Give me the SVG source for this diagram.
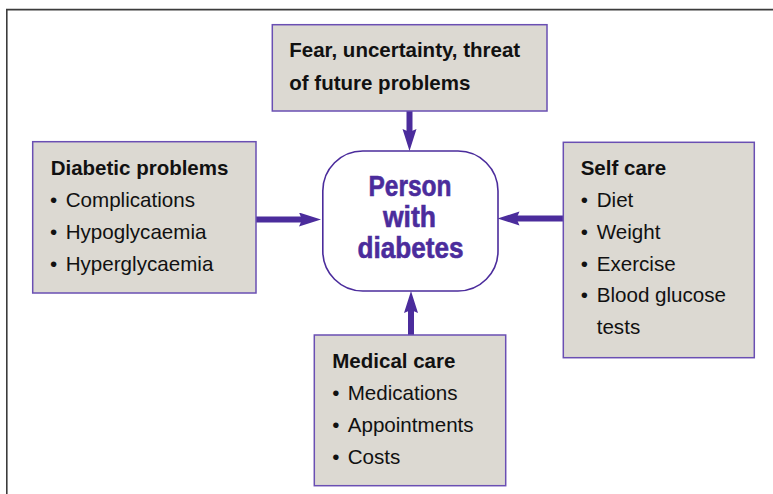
<svg xmlns="http://www.w3.org/2000/svg" width="773" height="494" viewBox="0 0 773 494">
  <defs>
    <style>
      .frame { fill: none; stroke: #3c3c3c; stroke-width: 1.6; }
      .box { fill: #dcd9d2; stroke: #6a4fb3; stroke-width: 1.5; }
      .hub { fill: #ffffff; stroke: #4b2c9c; stroke-width: 1.6; }
      .link { stroke: #4b2c9c; stroke-width: 6; fill: none; marker-end: url(#head); }
      .hd { font-family: "Liberation Sans", Arial, sans-serif; font-weight: bold; font-size: 20.5px; fill: #111111; }
      .it { font-family: "Liberation Sans", Arial, sans-serif; font-size: 20.6px; fill: #111111; }
      .hubtxt { font-family: "Liberation Sans", Arial, sans-serif; font-weight: bold; font-size: 30px; fill: #4b2c9c; stroke: #4b2c9c; stroke-width: 0.6; text-anchor: middle; }
    </style>
    <marker id="head" markerUnits="userSpaceOnUse" markerWidth="24" markerHeight="16" refX="4" refY="7" orient="auto">
      <path d="M0,0 L22,7 L0,14 L3,7 Z" fill="#4b2c9c"/>
    </marker>
  </defs>

  <!-- page frame (top and left rules) -->
  <path class="frame" d="M6.8,494 V9.6 H773"/>

  <!-- connectors -->
  <g id="connectors">
    <line class="link" x1="409.5" y1="111" x2="409.5" y2="133"/>
    <line class="link" x1="256" y1="219.5" x2="303" y2="219.5"/>
    <line class="link" x1="563" y1="218.5" x2="515.5" y2="218.5"/>
    <line class="link" x1="411" y1="335" x2="411" y2="309"/>
  </g>

  <!-- central node -->
  <g id="person">
    <rect class="hub" x="322.8" y="151" width="175.2" height="140" rx="40" ry="40"/>
    <text class="hubtxt" x="410" y="196" textLength="83" lengthAdjust="spacingAndGlyphs">Person</text>
    <text class="hubtxt" x="409.5" y="227" textLength="53" lengthAdjust="spacingAndGlyphs">with</text>
    <text class="hubtxt" x="410.5" y="257.5" textLength="106" lengthAdjust="spacingAndGlyphs">diabetes</text>
  </g>

  <!-- top node -->
  <g id="fear">
    <rect class="box" x="272.3" y="24.7" width="274.7" height="86.3"/>
    <text class="hd" x="289.3" y="57.3">Fear, uncertainty, threat</text>
    <text class="hd" x="289.3" y="90">of future problems</text>
  </g>

  <!-- left node -->
  <g id="diabetic-problems">
    <rect class="box" x="32.7" y="141.7" width="223.3" height="151.3"/>
    <text class="hd" x="50.7" y="174.5">Diabetic problems</text>
    <text class="it" y="207"><tspan x="50">•</tspan><tspan x="65.7">Complications</tspan></text>
    <text class="it" y="239"><tspan x="50">•</tspan><tspan x="65.7">Hypoglycaemia</tspan></text>
    <text class="it" y="271"><tspan x="50">•</tspan><tspan x="65.7">Hyperglycaemia</tspan></text>
  </g>

  <!-- right node -->
  <g id="self-care">
    <rect class="box" x="563.3" y="142.3" width="191" height="215.4"/>
    <text class="hd" x="580.7" y="174.5">Self care</text>
    <text class="it" y="207"><tspan x="580.7">•</tspan><tspan x="596.7">Diet</tspan></text>
    <text class="it" y="239"><tspan x="580.7">•</tspan><tspan x="596.7">Weight</tspan></text>
    <text class="it" y="270.5"><tspan x="580.7">•</tspan><tspan x="596.7">Exercise</tspan></text>
    <text class="it" y="302"><tspan x="580.7">•</tspan><tspan x="596.7">Blood glucose</tspan></text>
    <text class="it" x="596.7" y="334">tests</text>
  </g>

  <!-- bottom node -->
  <g id="medical-care">
    <rect class="box" x="314.3" y="335" width="191.4" height="150.7"/>
    <text class="hd" x="332.3" y="368.3">Medical care</text>
    <text class="it" y="400"><tspan x="332.3">•</tspan><tspan x="347.7">Medications</tspan></text>
    <text class="it" y="432"><tspan x="332.3">•</tspan><tspan x="347.7">Appointments</tspan></text>
    <text class="it" y="464.3"><tspan x="332.3">•</tspan><tspan x="347.7">Costs</tspan></text>
  </g>
</svg>
